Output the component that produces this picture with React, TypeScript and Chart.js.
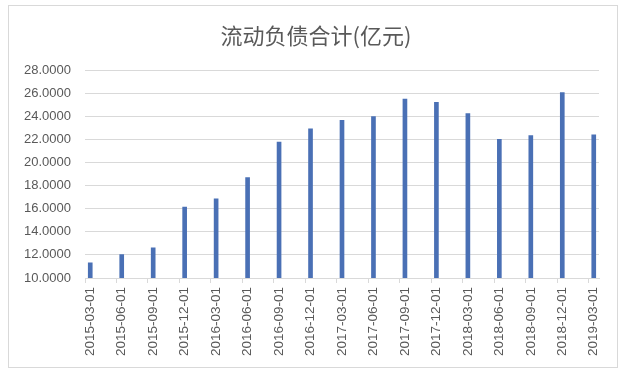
import React, { useEffect, useRef } from 'react';
import { Chart, registerables } from 'chart.js';

Chart.register(...registerables);

const TITLE = '流动负债合计(亿元)';

const categories = [
  '2015-03-01', '2015-06-01', '2015-09-01', '2015-12-01',
  '2016-03-01', '2016-06-01', '2016-09-01', '2016-12-01',
  '2017-03-01', '2017-06-01', '2017-09-01', '2017-12-01',
  '2018-03-01', '2018-06-01', '2018-09-01', '2018-12-01',
  '2019-03-01',
];

const values = [
  11.32, 12.02, 12.62, 16.14,
  16.86, 18.68, 21.77, 22.9,
  23.65, 23.96, 25.49, 25.2,
  24.22, 22.0, 22.32, 26.04,
  22.4,
];

const Y_MIN = 10;
const Y_MAX = 28;
const Y_STEP = 2;

// Excel-style date axis with a monthly base unit: build monthly slots from the quarter dates
function monthKey(s: string) {
  const [y, m] = s.split('-').map(Number);
  return y * 12 + (m - 1);
}
const startKey = monthKey(categories[0]);
const endKey = monthKey(categories[categories.length - 1]);
const monthLabels: string[] = [];
const monthValues: (number | null)[] = [];
for (let k = startKey; k <= endKey; k++) {
  const y = Math.floor(k / 12);
  const m = (k % 12) + 1;
  const label = `${y}-${String(m).padStart(2, '0')}-01`;
  const idx = categories.indexOf(label);
  monthLabels.push(label);
  monthValues.push(idx >= 0 ? values[idx] : null);
}

const GRID = '#d9d9d9';
const TEXT = '#595959';
const BAR = '#4A70B5';

const frame = {
  id: 'frame',
  beforeDraw(chart: any) {
    const { ctx } = chart;
    ctx.save();
    ctx.fillStyle = '#ffffff';
    ctx.fillRect(0, 0, chart.width, chart.height);
    ctx.strokeStyle = GRID;
    ctx.lineWidth = 1;
    ctx.strokeRect(8.5, 5.5, 609, 362);
    ctx.restore();
  },
  afterDraw(chart: any) {
    const { ctx } = chart;
    ctx.save();
    ctx.fillStyle = TEXT;
    ctx.font = 'normal 22px "Noto Sans CJK SC", sans-serif';
    ctx.textAlign = 'center';
    ctx.textBaseline = 'middle';
    ctx.fillText(TITLE, 316, 36);
    ctx.restore();
  },
};

export default function App() {
  const ref = useRef<HTMLCanvasElement | null>(null);

  useEffect(() => {
    if (!ref.current) return;
    const chart = new Chart(ref.current, {
      type: 'bar',
      data: {
        labels: monthLabels,
        datasets: [
          {
            data: monthValues,
            backgroundColor: BAR,
            barThickness: 4,
          },
        ],
      },
      options: {
        responsive: false,
        animation: false,
        devicePixelRatio: 1,
        layout: { padding: { left: 0, right: 28, top: 70, bottom: 0 } },
        plugins: {
          legend: { display: false },
          tooltip: { enabled: false },
          title: { display: false },
        },
        scales: {
          x: {
            type: 'category',
            offset: true,
            afterFit(scale: any) {
              scale.height = 99;
            },
            grid: {
              offset: true,
              drawOnChartArea: false,
              drawTicks: true,
              tickLength: 5,
              color: (ctx: any) => (ctx.index % 3 === 0 ? GRID : 'rgba(0,0,0,0)'),
            },
            border: { display: true, color: GRID },
            ticks: {
              autoSkip: false,
              minRotation: 90,
              maxRotation: 90,
              padding: 4,
              color: TEXT,
              font: { family: '"Liberation Sans", sans-serif', size: 13.5 },
              callback: (_v: any, i: number) =>
                categories.includes(monthLabels[i]) ? monthLabels[i] : '',
            },
          },
          y: {
            min: Y_MIN,
            max: Y_MAX,
            afterFit(scale: any) {
              scale.width = 85;
            },
            grid: { color: GRID, drawTicks: false },
            border: { display: false },
            ticks: {
              stepSize: Y_STEP,
              padding: 14,
              color: TEXT,
              font: { family: '"Liberation Sans", sans-serif', size: 13 },
              callback: (v: any) => Number(v).toFixed(4),
            },
          },
        },
      },
      plugins: [frame],
    } as any);
    return () => chart.destroy();
  }, []);

  return (
    <div style={{ position: 'fixed', left: 0, top: 0, width: 627, height: 377, background: '#fff' }}>
      <canvas ref={ref} width={627} height={377} style={{ display: 'block', width: 627, height: 377 }} />
    </div>
  );
}
